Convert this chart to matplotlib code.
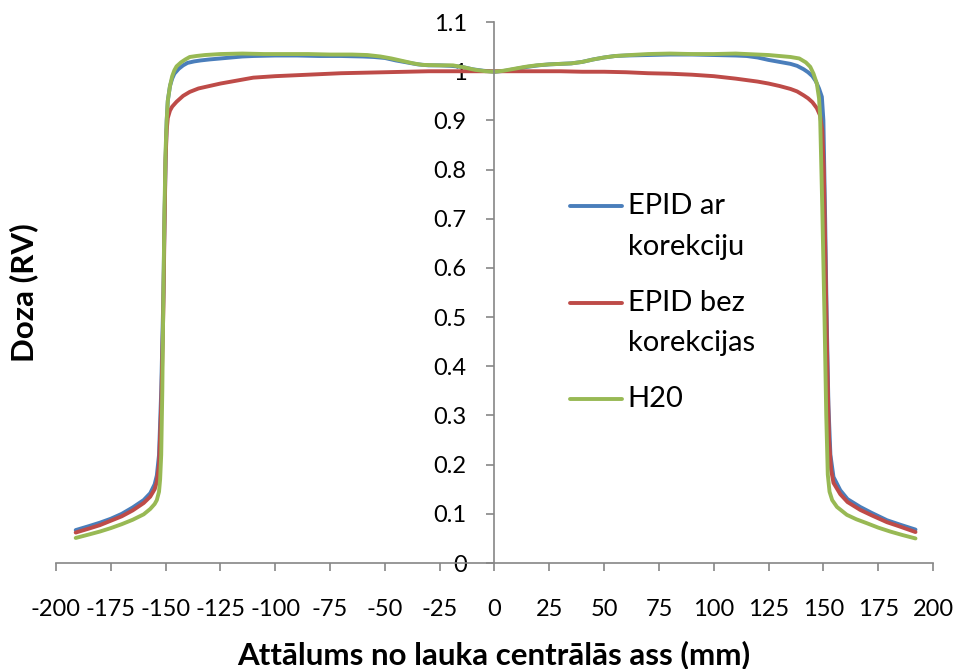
import matplotlib.pyplot as plt
from matplotlib.ticker import FuncFormatter, MultipleLocator

# EPID ar korekciju
blue_x = [-191, -185, -180, -175, -170, -165, -160, -157, -155, -154, -153, -152, -151, -150.5, -150,
          -149.5, -149, -148, -147, -146, -144, -142, -140, -137, -134, -130, -125, -120, -115, -110,
          -100, -90, -80, -70, -60, -55, -50, -45, -40, -35, -30, -25, -20, -15, -10, -5, 0, 5, 10,
          15, 20, 25, 30, 35, 40, 45, 50, 55, 60, 70, 80, 90, 100, 110, 115, 120, 125, 130, 135, 138,
          141, 143, 145, 146.5, 148, 149.3, 150, 150.8, 151.5, 152.3, 153.2, 154.6, 157.7, 161, 166.8,
          172, 179, 185, 192]
blue_y = [0.067, 0.075, 0.082, 0.090, 0.100, 0.113, 0.128, 0.142, 0.160, 0.178, 0.22, 0.35, 0.55, 0.70, 0.82,
          0.90, 0.94, 0.97, 0.985, 0.995, 1.005, 1.012, 1.017, 1.020, 1.022, 1.024, 1.026, 1.028, 1.030, 1.031,
          1.032, 1.032, 1.031, 1.031, 1.030, 1.029, 1.027, 1.022, 1.018, 1.014, 1.012, 1.012, 1.011, 1.009,
          1.004, 1.001, 0.999, 1.001, 1.005, 1.009, 1.012, 1.014, 1.015, 1.016, 1.019, 1.024, 1.028, 1.031,
          1.032, 1.033, 1.034, 1.034, 1.033, 1.032, 1.031, 1.028, 1.023, 1.019, 1.015, 1.011, 1.004, 0.998,
          0.990, 0.980, 0.965, 0.948, 0.90, 0.70, 0.50, 0.32, 0.22, 0.175, 0.148, 0.130, 0.114, 0.102, 0.087,
          0.078, 0.068]

# EPID bez korekcijas
red_x = [-191, -185, -180, -175, -170, -165, -160, -157, -155, -154, -153, -152, -151, -150.5, -150,
         -149.5, -149, -148, -147, -145, -142, -139, -135, -130, -125, -120, -110, -100, -90, -80, -70,
         -60, -50, -40, -30, -20, -10, 0, 10, 20, 30, 40, 50, 60, 70, 80, 90, 100, 110, 115, 120, 125,
         130, 135, 138, 141, 143, 145, 147, 148.5, 149.5, 150.2, 151, 151.8, 152.6, 153.5, 154.6, 157.7,
         161, 166.8, 172, 179, 185, 192]
red_y = [0.062, 0.070, 0.077, 0.086, 0.095, 0.107, 0.122, 0.135, 0.150, 0.165, 0.20, 0.32, 0.52, 0.68, 0.82,
         0.88, 0.905, 0.920, 0.928, 0.938, 0.950, 0.958, 0.965, 0.970, 0.975, 0.979, 0.987, 0.990, 0.992,
         0.994, 0.996, 0.997, 0.998, 0.999, 1.000, 1.000, 1.000, 1.000, 1.000, 1.000, 1.000, 0.999, 0.999,
         0.998, 0.996, 0.995, 0.993, 0.990, 0.985, 0.982, 0.979, 0.975, 0.970, 0.964, 0.959, 0.951, 0.945,
         0.937, 0.925, 0.91, 0.88, 0.80, 0.60, 0.40, 0.25, 0.19, 0.163, 0.140, 0.124, 0.108, 0.097, 0.083,
         0.074, 0.063]

# H20
green_x = [-191, -185, -180, -175, -170, -165, -160, -157, -155, -154, -153, -152.5, -152, -151.5, -151,
           -150.5, -150, -149.5, -149, -148, -147, -146, -145, -143, -141, -139, -136, -132, -125, -115,
           -105, -95, -85, -75, -65, -58, -52, -47, -42, -37, -33, -25, -19, -14, -9, -4, 0, 4, 9, 14,
           19, 25, 30, 35, 40, 45, 50, 55, 62, 70, 80, 90, 100, 110, 115, 120, 125, 130, 135, 139, 142,
           144, 145.5, 147, 148, 148.5, 149.5, 150.5, 151.3, 152, 152.8, 154, 156.2, 160.7, 165, 169.8,
           175, 180.5, 186, 192]
green_y = [0.051, 0.058, 0.064, 0.071, 0.079, 0.088, 0.099, 0.110, 0.120, 0.128, 0.145, 0.17, 0.22, 0.35,
           0.55, 0.72, 0.84, 0.90, 0.94, 0.97, 0.99, 1.002, 1.010, 1.018, 1.024, 1.029, 1.031, 1.033, 1.035,
           1.036, 1.035, 1.035, 1.035, 1.034, 1.034, 1.033, 1.030, 1.026, 1.021, 1.016, 1.013, 1.012, 1.012,
           1.008, 1.003, 1.000, 0.999, 1.001, 1.005, 1.009, 1.012, 1.014, 1.015, 1.016, 1.019, 1.024, 1.028,
           1.031, 1.033, 1.035, 1.036, 1.035, 1.035, 1.036, 1.035, 1.034, 1.033, 1.031, 1.029, 1.026, 1.018,
           1.009, 0.995, 0.975, 0.945, 0.91, 0.72, 0.50, 0.30, 0.18, 0.145, 0.128, 0.114, 0.098, 0.089,
           0.081, 0.072, 0.064, 0.057, 0.050]

series = [
    ("EPID ar", "korekciju", blue_x, blue_y, "#4A7EBB"),
    ("EPID bez", "korekcijas", red_x, red_y, "#BE4B48"),
    ("H20", None, green_x, green_y, "#98B954"),
]

plt.rcParams['font.family'] = ['Lato', 'DejaVu Sans']
plt.rcParams['axes.unicode_minus'] = False

fig = plt.figure(figsize=(9.55, 6.69), dpi=100)
ax = fig.add_axes([0.0586, 0.1584, 0.9184, 0.8086])

for name1, name2, xs, ys, color in series:
    ax.plot(xs, ys, color=color, lw=2.8, solid_capstyle='round', solid_joinstyle='round')

ax.set_xlim(-200, 200)
ax.set_ylim(0, 1.1)
ax.xaxis.set_major_locator(MultipleLocator(25))
ax.yaxis.set_major_locator(MultipleLocator(0.1))
ax.yaxis.set_major_formatter(FuncFormatter(lambda v, p: '%g' % round(v, 2)))

ax.spines['left'].set_position(('data', 0))
ax.spines['top'].set_visible(False)
ax.spines['right'].set_visible(False)
for s in ('left', 'bottom'):
    ax.spines[s].set_color('#868686')
    ax.spines[s].set_linewidth(1.2)
ax.tick_params(axis='both', direction='out', color='#868686', width=1.2, length=6,
               labelsize=17, labelcolor='black')
ax.tick_params(axis='x', pad=20)
ax.tick_params(axis='y', pad=14)

# legend drawn by hand so the line sits at the first text line, as in Excel
leg_rows = [(0.660, 0.584), (0.481, 0.406), (0.303, None)]
for (name1, name2, xs, ys, color), (y1, y2) in zip(series, leg_rows):
    ax.plot([0.586, 0.645], [y1, y1], transform=ax.transAxes, color=color, lw=2.8,
            solid_capstyle='round', clip_on=False)
    ax.text(0.652, y1, name1, transform=ax.transAxes, fontsize=21, va='center', ha='left')
    if name2:
        ax.text(0.652, y2, name2, transform=ax.transAxes, fontsize=21, va='center', ha='left')

fig.text(0.025, 0.563, 'Doza (RV)', rotation=90, fontsize=22.5, fontweight='bold',
         ha='center', va='center')
fig.text(0.517, 0.022, 'Attālums no lauka centrālās ass (mm)', fontsize=22.5, fontweight='bold',
         ha='center', va='center')

fig.savefig('out.png', dpi=100)
